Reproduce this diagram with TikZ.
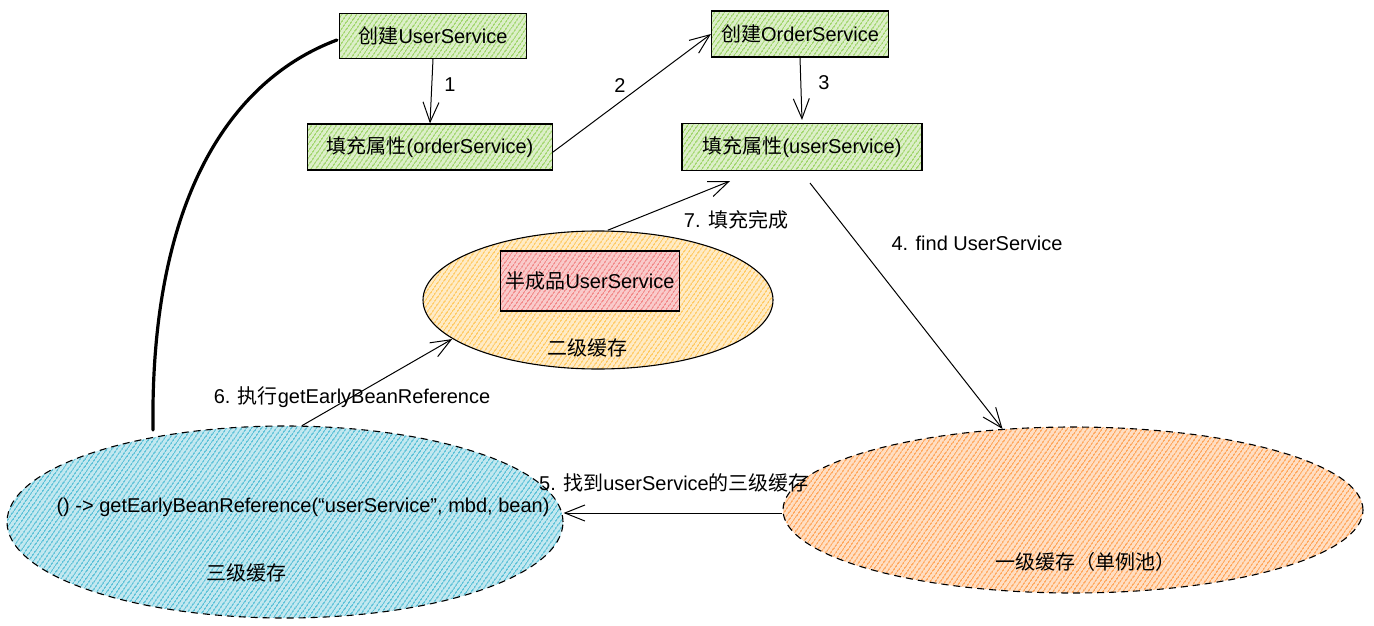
\documentclass[tikz,border=0pt]{standalone}
\usepackage{fontspec}
\setmainfont{Liberation Sans}
\newfontfamily\cjk{Noto Sans CJK SC}
\usetikzlibrary{arrows.meta,patterns.meta,shapes.geometric,calc}
\definecolor{grn}{HTML}{A2D66E}
\definecolor{ylw}{HTML}{FFCB66}
\definecolor{pnk}{HTML}{F28A8A}
\definecolor{blu}{HTML}{5EC2D8}
\definecolor{org}{HTML}{FFA85E}
\tikzset{
  hatch/.style={preaction={fill=#1!38}, pattern={Lines[angle=55,distance=4pt,line width=1.8pt]}, pattern color=#1},
  box/.style={draw=black, line width=1.1pt, hatch=grn, minimum height=46pt, inner sep=0pt, font=\fontsize{20}{24}\selectfont},
  ell/.style={ellipse, draw=black, line width=1.1pt, inner sep=0pt},
  arr/.style={-{Straight Barb[length=20pt,width=16pt]}, line width=1pt},
  lbl/.style={font=\fontsize{20}{24}\selectfont, inner sep=0pt},
}
\begin{document}
\begin{tikzpicture}[x=1pt,y=-1pt]
\useasboundingbox (0,0) rectangle (1374,626);
% ellipses
\node[ell, hatch=ylw, minimum width=350pt, minimum height=138pt] (E) at (598,300) {};
\node[ell, dashed, dash pattern=on 7pt off 5pt, hatch=blu, minimum width=556pt, minimum height=192pt] (F) at (285,522) {};
\node[ell, dashed, dash pattern=on 7pt off 5pt, hatch=org, minimum width=580pt, minimum height=166pt] (G) at (1073,510) {};
% boxes
\node[box, minimum width=187pt, minimum height=45pt] (A) at (433,36) {{\cjk 创建}UserService};
\node[box, minimum width=245pt] (B) at (430,147) {{\cjk 填充属性}(orderService)};
\node[box, minimum width=177pt] (C) at (800,34) {{\cjk 创建}OrderService};
\node[box, minimum width=240pt, minimum height=47pt] (D) at (802,147) {{\cjk 填充属性}(userService)};
\node[box, preaction={fill=pnk!45}, pattern={Lines[angle=55,distance=4pt,line width=1.6pt]}, pattern color=pnk, minimum width=179pt, minimum height=60pt] (H) at (590,281) {{\cjk 半成品}UserService};
% texts inside ellipses
\node[lbl] (Et) at (587,348) {\cjk 二级缓存};
\node[lbl] (Ft) at (303,507) {() -> getEarlyBeanReference(“userService”, mbd, bean)};
\node[lbl] (Ft2) at (246,573) {\cjk 三级缓存};
\node[lbl] (Gt) at (1085,562) {\cjk 一级缓存（单例池）};
% connectors
\draw[arr] (A.south) -- (B.north);
\draw[arr] ($(B.east)+(0,5)$) -- (C.west);
\draw[arr] (C.south) -- ($(D.north)+(0,-3)$);
\draw[arr] ($(D.south)+(8,12)$) -- (G.131);
\draw[arr] (G.west |- 0,513) -- (F.east |- 0,513);
\draw[arr] (F.80) -- (E.195);
\draw[arr] (E.82) -- ($(D.south)+(-72,10)$);
\node[lbl] (l1) at (450,85) {1};
\node[lbl] (l2) at (620,86) {2};
\node[lbl] (l3) at (824,83) {3};
\node[lbl] (l4) at (977,243) {4. find UserService};
\node[lbl] (l5) at (674,483) {5. {\cjk 找到}userService{\cjk 的三级缓存}};
\node[lbl] (l6) at (352,397) {6. {\cjk 执行}getEarlyBeanReference};
\node[lbl] (l7) at (736,220) {7. {\cjk 填充完成}};
% thick curve
\coordinate (cEnd) at (153,430);
\draw[line width=3.2pt, line cap=round] ($(A.west)+(-2,4)$) .. controls (230,80) and (150,200) .. (cEnd);
\end{tikzpicture}
\end{document}
